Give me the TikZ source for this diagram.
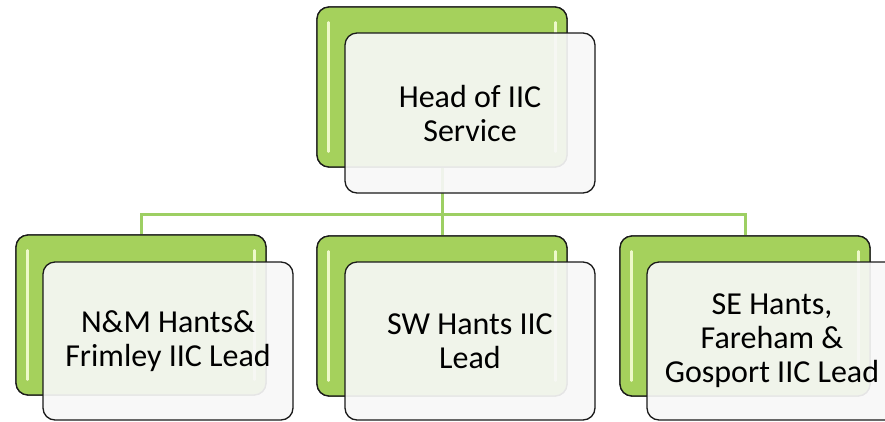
\documentclass[tikz,border=0pt]{standalone}
\usepackage{fontspec}
\setmainfont{Carlito}
\usetikzlibrary{positioning}
\definecolor{gfill}{HTML}{A5D15C}
\definecolor{gline}{HTML}{9DCF63}
\definecolor{ghl}{HTML}{EEF9C9}
\definecolor{wfill}{HTML}{F7F7F7}
\definecolor{bord}{HTML}{1A1A1A}
\tikzset{
  gbox/.style={draw=bord, line width=1.3pt, fill=gfill, rounded corners=12pt,
    minimum width=250pt, minimum height=160pt, inner sep=0pt},
  wbox/.style={draw=bord, line width=1.3pt, fill=wfill, fill opacity=0.92, text opacity=1,
    rounded corners=12pt, minimum width=250pt, minimum height=158pt, inner sep=0pt,
    align=center, font=\fontsize{32pt}{34pt}\selectfont},
  conn/.style={draw=gline, line width=3pt},
  hl/.style={draw=ghl, line width=2.5pt, line cap=round}
}
\newcommand{\greenhl}[1]{%
  \draw[hl] ([shift={(12,16)}]#1.north west) -- ([shift={(12,-16)}]#1.south west);
  \draw[hl] ([shift={(-12,16)}]#1.north east) -- ([shift={(-12,-16)}]#1.south east);}
\begin{document}
\begin{tikzpicture}[x=1pt,y=-1pt]
\useasboundingbox (0,0) rectangle (885,421);
\clip (0,0) rectangle (885,421);
% green boxes
\node[gbox, minimum height=160pt] (tg) at (442,87) {};
\node[gbox] (lg) at (141,315) {};
\node[gbox] (mg) at (442,316) {};
\node[gbox] (rg) at (745,316) {};
% connectors
\coordinate (j) at (442,214);
\draw[conn] (tg.south) -- (j);
\draw[conn] (j) -| (lg.north);
\draw[conn] (j) -- (mg.north);
\draw[conn] (j) -| (rg.north);
% redraw green boxes on top of connectors
\node[gbox] at (tg) {};
\node[gbox] at (lg) {};
\node[gbox] at (mg) {};
\node[gbox] at (rg) {};
\greenhl{tg}
\greenhl{lg}
\greenhl{mg}
\greenhl{rg}
% white boxes
\node[wbox, minimum height=160pt] (tw) at (470,113) {Head of IIC\\Service};
\node[wbox] (lw) at (168,341) {N\&M Hants\&\\Frimley IIC Lead};
\node[wbox] (mw) at (470,341) {SW Hants IIC\\Lead};
\node[wbox] (rw) at (772,341) {SE Hants,\\Fareham \&\\Gosport IIC Lead};
\end{tikzpicture}
\end{document}
